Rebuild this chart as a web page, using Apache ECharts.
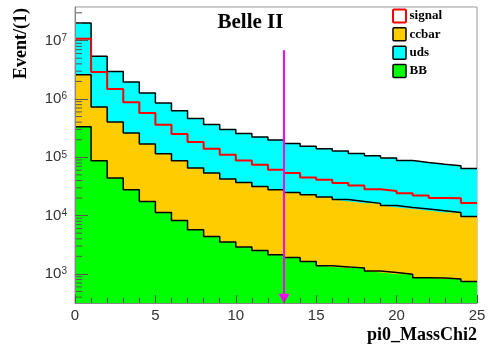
<!DOCTYPE html>
<html><head><meta charset="utf-8">
<script src="https://cdn.jsdelivr.net/npm/echarts@6/dist/echarts.min.js"></script>
<style>html,body{margin:0;padding:0;background:#fff}#c{width:490px;height:348px}</style>
</head><body><div id="c"></div>
<script>
// Bin edges of pi0_MassChi2 (bins of width 1, 0..25)
const binEdges = ['0','1','2','3','4','5','6','7','8','9','10','11','12','13','14','15','16','17','18','19','20','21','22','23','24','25'];
// Per-bin contents (stack order: BB, ccbar, uds)
const bbValues = [335000, 87500, 44200, 27800, 17530, 11350, 8270, 5730, 4400, 3520, 2890, 2530, 2130, 1920, 1640, 1380, 1320, 1260, 1125, 1057, 989, 861, 851, 821, 744];
const ccbarValues = [2275000, 641500, 358800, 233200, 151500, 103950, 79230, 59770, 49400, 38980, 34210, 29170, 25670, 23080, 21160, 19420, 17650, 16270, 15080, 13840, 12840, 12120, 11280, 10530, 8950];
const udsValues = [17520000, 4651000, 2567000, 1698000, 1099000, 738700, 542500, 395500, 310200, 258500, 218900, 191300, 169200, 147600, 131700, 119700, 109230, 99170, 90300, 82400, 74270, 68520, 64070, 60450, 54610];
const signalValues = [10820000, 2900000, 1486000, 875000, 575000, 362000, 251000, 183000, 140500, 110900, 88500, 74600, 61200, 53800, 45200, 41300, 36200, 32800, 28200, 26400, 24200, 22100, 20000, 19800, 16440];
// Axis settings
const yMin = 317, yMax = 3.78e7;
const yMinorDecades = [100, 1000, 10000, 100000, 1000000, 10000000];
const yMinorFactors = [2, 3, 4, 5, 6, 7, 8, 9];
// Cut arrow
const cutIndex = 13;
const cutArrowTop = 6.82e6, cutArrowBottom = 376;
const legendNames = ['signal', 'ccbar', 'uds', 'BB'];

const colors = {BB: '#00ff00', ccbar: '#ffcc00', uds: '#00ffff', signal: '#ff0000', cut: '#ff00ff'};

// histogram step data: one point per bin edge (last bin closed at the upper edge)
function stepData(vals) {
  return binEdges.map(function (e, i) { return vals[Math.min(i, vals.length - 1)]; });
}
const yMinor = [];
yMinorDecades.forEach(function (d) {
  yMinorFactors.forEach(function (f) {
    const v = d * f;
    if (v > yMin && v < yMax) yMinor.push([0, v]);
  });
});

function stackSeries(name, vals, z) {
  return {
    name: name, type: 'line', stack: 'bkg', step: 'end', symbol: 'none', silent: true,
    data: stepData(vals), z: z,
    lineStyle: {color: '#000', width: 1.5},
    itemStyle: {color: colors[name]},
    areaStyle: {color: colors[name], opacity: 1, origin: 'start'}
  };
}

const serif = '"Liberation Serif", "Times New Roman", serif';
const sans = '"Liberation Sans", Arial, sans-serif';

const legendGraphics = [];
const legendY = [16, 34.3, 52.7, 71];
legendNames.forEach(function (n, i) {
  const isSig = n === 'signal';
  legendGraphics.push({
    type: 'rect', shape: {x: 393, y: legendY[i] - 6.5, width: 13, height: 13, r: 1},
    style: {fill: isSig ? '#fff' : colors[n], stroke: isSig ? colors.signal : '#000', lineWidth: isSig ? 2 : 1.5},
    z: 100
  });
  legendGraphics.push({
    type: 'text', x: 409.5, y: legendY[i],
    style: {text: n, font: 'bold 13px ' + serif, fill: '#000', align: 'left', verticalAlign: 'middle', textAlign: 'left', textVerticalAlign: 'middle'},
    z: 100
  });
});

const chart = echarts.init(document.getElementById('c'), null, {renderer: 'canvas'});
chart.setOption({
  animation: false,
  backgroundColor: '#fff',
  grid: {left: 75, right: 13, top: 7, bottom: 45, show: true, borderColor: '#999', borderWidth: 1, backgroundColor: 'transparent'},
  xAxis: [
    {type: 'category', data: binEdges, boundaryGap: false, show: false},
    {type: 'value', min: 0, max: 25, interval: 5, position: 'bottom', z: 10,
     axisLine: {show: true, lineStyle: {color: '#888', width: 1}},
     axisTick: {show: true, inside: true, length: 8, lineStyle: {color: '#555'}},
     minorTick: {show: true, splitNumber: 5, length: 5, lineStyle: {color: '#555'}},
     splitLine: {show: false}, minorSplitLine: {show: false},
     axisLabel: {color: '#333', fontSize: 15, fontFamily: sans, margin: 5}}
  ],
  yAxis: {
    type: 'log', logBase: 10, min: yMin, max: yMax, z: 10,
    axisLine: {show: true, lineStyle: {color: '#888', width: 1}},
    axisTick: {show: true, inside: true, length: 13, lineStyle: {color: '#555'}},
    minorTick: {show: false}, splitLine: {show: false}, minorSplitLine: {show: false},
    axisLabel: {
      showMinLabel: false, showMaxLabel: false, margin: 8,
      formatter: function (v) {
        const l = Math.log10(v), e = Math.round(l);
        if (Math.abs(l - e) > 0.01) return '';
        return '{b|10}{s|' + e + '}';
      },
      rich: {
        b: {fontSize: 15, fontFamily: sans, color: '#333', lineHeight: 15, padding: [3, 0, 0, 0], verticalAlign: 'bottom'},
        s: {fontSize: 10, fontFamily: sans, color: '#333', lineHeight: 10, verticalAlign: 'top'}
      }
    }
  },
  series: [
    stackSeries('BB', bbValues, 2),
    stackSeries('ccbar', ccbarValues, 2),
    stackSeries('uds', udsValues, 2),
    {
      name: 'signal', type: 'line', step: 'end', symbol: 'none', silent: true, z: 4,
      data: stepData(signalValues),
      lineStyle: {color: colors.signal, width: 2}, itemStyle: {color: colors.signal},
      markLine: {
        silent: true, symbol: ['none', 'triangle'], symbolSize: [11, 10], animation: false,
        label: {show: false},
        lineStyle: {color: colors.cut, width: 2, type: 'solid'},
        data: [[{coord: [cutIndex, cutArrowTop]}, {coord: [cutIndex, cutArrowBottom]}]]
      }
    },
    {
      type: 'custom', silent: true, z: 6, xAxisIndex: 0, yAxisIndex: 0,
      data: yMinor,
      renderItem: function (params, api) {
        const p = api.coord([0, api.value(1)]);
        return {type: 'line', shape: {x1: p[0], y1: p[1], x2: p[0] + 7, y2: p[1]}, style: {stroke: '#555', lineWidth: 1}};
      }
    }
  ],
  graphic: [
    {type: 'text', x: 250.5, y: 22.7, z: 100,
     style: {text: 'Belle II', font: 'bold 21px ' + serif, fill: '#000', align: 'center', verticalAlign: 'middle', textAlign: 'center', textVerticalAlign: 'middle'}},
    {type: 'text', x: 21.5, y: 8, rotation: Math.PI / 2, z: 100,
     style: {text: 'Event/(1)', font: 'bold 18px ' + serif, fill: '#000', align: 'right', verticalAlign: 'middle', textAlign: 'right', textVerticalAlign: 'middle'}},
    {type: 'text', x: 477, y: 335, z: 100,
     style: {text: 'pi0_MassChi2', font: 'bold 18px ' + serif, fill: '#000', align: 'right', verticalAlign: 'middle', textAlign: 'right', textVerticalAlign: 'middle'}}
  ].concat(legendGraphics)
});
</script></body></html>
